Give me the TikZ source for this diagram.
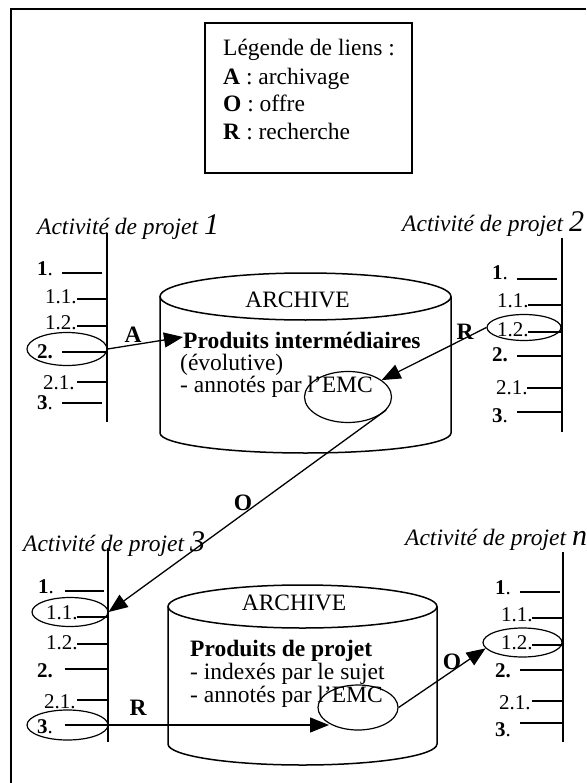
\documentclass[tikz,border=0pt]{standalone}
\usepackage{fontspec}
\setmainfont{Liberation Serif}
\usetikzlibrary{shapes.geometric,arrows.meta}
\tikzset{
  frame/.style={line width=2pt},
  txt/.style={inner sep=0pt, anchor=base west, font=\fontsize{23.5}{26}\selectfont},
  ctxt/.style={inner sep=0pt, anchor=base, font=\fontsize{23.5}{26}\selectfont},
  lbl/.style={inner sep=0pt, anchor=base west, font=\fontsize{21}{22}\selectfont},
  ttl/.style={inner sep=0pt, anchor=base west, font=\fontsize{23.5}{26}\selectfont\itshape},
  axis/.style={line width=2.3pt},
  tkthick/.style={line width=2.3pt},
  tkthin/.style={line width=1.1pt},
  ring/.style={draw, ellipse, line width=1.2pt, inner sep=0pt},
  cyl/.style={line width=1.5pt},
  link/.style={-{Triangle[length=19pt,width=15pt]}, line width=1.3pt},
  linklbl/.style={inner sep=0pt, font=\fontsize{23.5}{26}\selectfont\bfseries},
}
\begin{document}
\begin{tikzpicture}[x=1pt,y=-1pt]
\useasboundingbox (0,0) rectangle (586,783);
% outer frame
\draw[frame] (586,9) -- (11,9) -- (11,783);

% legend
\node[draw, line width=1.5pt, minimum width=207pt, minimum height=150pt, inner sep=0pt] (legend) at (308.5,98) {};
\node[txt] (lg0) at (223,56) {Légende de liens :};
\node[txt] (lg1) at (223,85) {\textbf{A} : archivage};
\node[txt] (lg2) at (223,112) {\textbf{O} : offre};
\node[txt] (lg3) at (223,140) {\textbf{R} : recherche};

% ---------- Activity 1 ----------
\node[ttl] (t1) at (37,235) {Activité de projet {\fontsize{30}{30}\selectfont 1}};
\draw[axis] (107,233) -- (107,422);
\draw[tkthick] (62,273) -- (102,273);
\draw[tkthin] (77,299) -- (107,299);
\draw[tkthin] (77,326) -- (107,326);
\draw[tkthick] (62,352) -- (107,352);
\draw[tkthin] (77,382) -- (107,382);
\draw[tkthick] (62,403) -- (102,403);
\node[lbl] (a1l1) at (37,276) {\textbf{1}.};
\node[lbl] (a1l11) at (45,303) {1.1.};
\node[lbl] (a1l12) at (45,329) {1.2.};
\node[lbl] (a1l2) at (37,358) {\textbf{2.}};
\node[lbl] (a1l21) at (43,389) {2.1.};
\node[lbl] (a1l3) at (37,409) {\textbf{3}.};
\node[ring, minimum width=80pt, minimum height=33pt] (e1) at (67,349) {};

% ---------- Activity 2 ----------
\node[ttl] (t2) at (402,232) {Activité de projet {\fontsize{30}{30}\selectfont 2}};
\draw[axis] (562,238) -- (562,432);
\draw[tkthick] (517,279) -- (557,279);
\draw[tkthin] (528,305) -- (562,305);
\draw[tkthin] (528,332) -- (562,332);
\draw[tkthick] (517,356) -- (562,356);
\draw[tkthin] (527,388) -- (562,388);
\draw[tkthick] (517,412) -- (562,412);
\node[lbl] (a2l1) at (492,279) {\textbf{1}.};
\node[lbl] (a2l11) at (497,307) {1.1.};
\node[lbl] (a2l12) at (497,336) {1.2.};
\node[lbl] (a2l2) at (492,361) {\textbf{2.}};
\node[lbl] (a2l21) at (496,394) {2.1.};
\node[lbl] (a2l3) at (492,422) {\textbf{3}.};
\node[ring, minimum width=74pt, minimum height=26pt] (e2) at (524,327.5) {};

% ---------- Archive 1 ----------
\draw[cyl] (305.5,296.5) ellipse[x radius=145.5pt, y radius=23.5pt];
\draw[cyl] (160,296.5) -- (160,433) arc[start angle=180, end angle=360, x radius=145.5pt, y radius=20pt] -- (451,296.5);
\node[ctxt] (ar1) at (297.5,307) {ARCHIVE};
\node[txt] (p1a) at (183,348) {\textbf{Produits intermédiaires}};
\node[txt] (p1b) at (180,370) {(évolutive)};
\node[txt] (p1c) at (180,392) {- annotés par l’EMC};
\node[ring, minimum width=87pt, minimum height=51pt] (emc1) at (348,397) {};

% ---------- Activity 3 ----------
\node[ttl] (t3) at (23,551) {Activité de projet {\fontsize{30}{30}\selectfont 3}};
\draw[axis] (108,548) -- (108,742);
\draw[tkthick] (65,591) -- (104,591);
\draw[tkthin] (77,617) -- (108,617);
\draw[tkthin] (77,644) -- (108,644);
\draw[tkthick] (65,669) -- (108,669);
\draw[tkthin] (77,700) -- (108,700);
\draw[tkthick] (65,725) -- (108,725);
\node[lbl] (a3l1) at (38,593) {\textbf{1}.};
\node[lbl] (a3l11) at (46,619) {1.1.};
\node[lbl] (a3l12) at (46,649) {1.2.};
\node[lbl] (a3l2) at (37,677) {\textbf{2.}};
\node[lbl] (a3l21) at (44,708) {2.1.};
\node[lbl] (a3l3) at (37,733) {\textbf{3}.};
\node[ring, minimum width=76pt, minimum height=29pt] (e3a) at (70,612) {};
\node[ring, minimum width=81pt, minimum height=30pt] (e3b) at (67.5,725) {};

% ---------- Activity n ----------
\node[ttl] (tn) at (405,545) {Activité de projet {\fontsize{30}{30}\selectfont n}};
\draw[axis] (563,552) -- (563,742);
\draw[tkthick] (520,592) -- (560,592);
\draw[tkthin] (532,618) -- (563,618);
\draw[tkthin] (532,645) -- (563,645);
\draw[tkthick] (520,670) -- (563,670);
\draw[tkthin] (532,701) -- (563,701);
\draw[tkthick] (520,723) -- (563,723);
\node[lbl] (anl1) at (495,594) {\textbf{1}.};
\node[lbl] (anl11) at (501,621) {1.1.};
\node[lbl] (anl12) at (501,649) {1.2.};
\node[lbl] (anl2) at (495,677) {\textbf{2.}};
\node[lbl] (anl21) at (499,709) {2.1.};
\node[lbl] (anl3) at (495,736) {\textbf{3}.};
\node[ring, minimum width=79pt, minimum height=29pt] (en) at (522.5,642.5) {};

% ---------- Archive 2 ----------
\draw[cyl] (302.5,606.5) ellipse[x radius=134.5pt, y radius=21.5pt];
\draw[cyl] (168,606.5) -- (168,744) arc[start angle=180, end angle=360, x radius=134.5pt, y radius=21pt] -- (437,606.5);
\node[ctxt] (ar2) at (294,610) {ARCHIVE};
\node[txt] (p2a) at (190,656) {\textbf{Produits de projet}};
\node[txt] (p2b) at (190,679) {- indexés par le sujet};
\node[txt] (p2c) at (190,702) {- annotés par l’EMC};
\node[ring, minimum width=80pt, minimum height=45pt] (emc2) at (358,707.5) {};

% ---------- links ----------
\coordinate (aend) at (183,337);
\coordinate (rend) at (329,725);
\draw[link] (e1.east) -- (aend);
\draw[link] (e2.west) -- (emc1);
\draw[link] (emc1.-19) -- (e3a.east);
\draw[link] (e3b.east) -- (rend);
\draw[link] (emc2.east) -- (en.189);
\node[linklbl] (la) at (133,335) {A};
\node[linklbl] (lr1) at (465,332) {R};
\node[linklbl] (lo1) at (243,503) {O};
\node[linklbl] (lr2) at (138,708) {R};
\node[linklbl] (lo2) at (452,662) {O};
\end{tikzpicture}
\end{document}
